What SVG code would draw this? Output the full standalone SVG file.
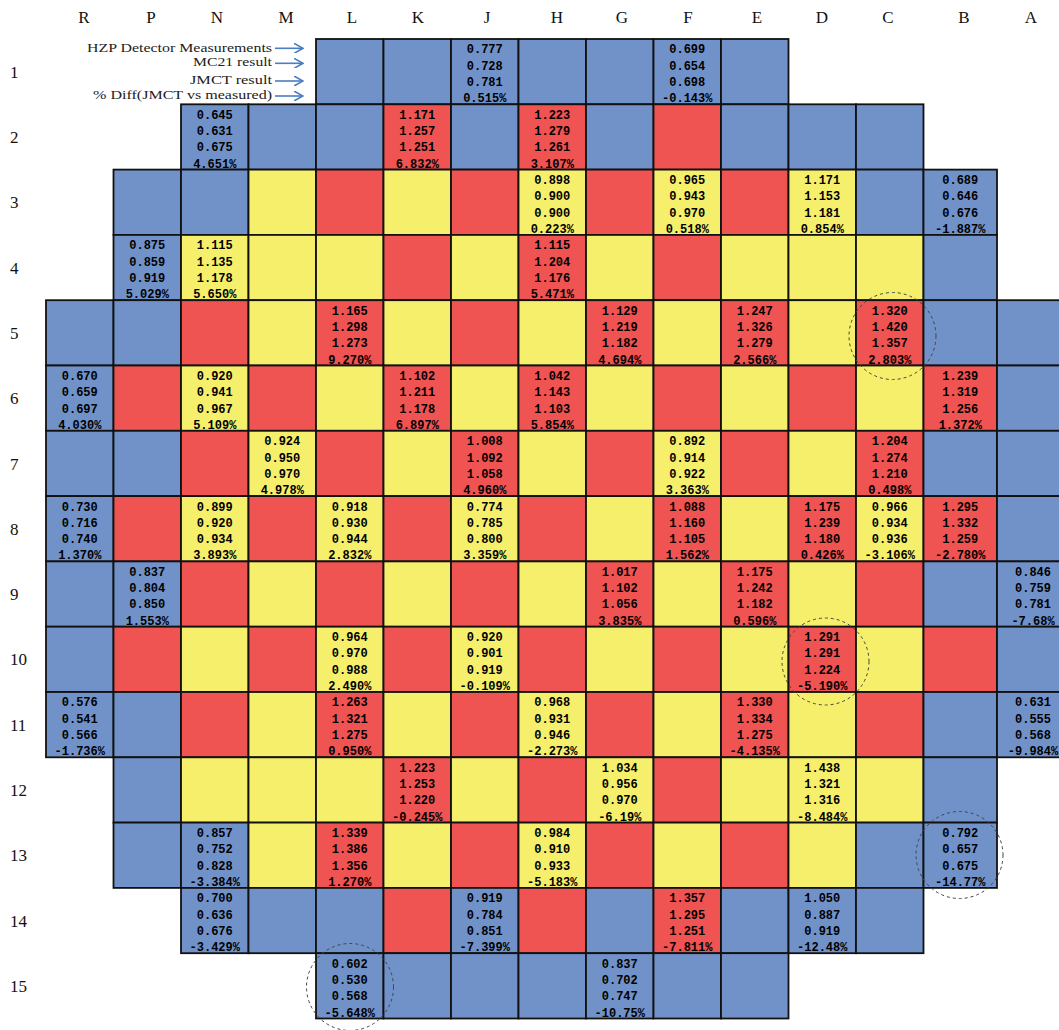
<svg xmlns="http://www.w3.org/2000/svg" width="1059" height="1030" viewBox="0 0 1059 1030">
<style>
.b{fill:#7092C9}.r{fill:#EF5352}.y{fill:#F6EF6C}
.b,.r,.y{stroke:#111;stroke-width:1.8}
.v{font-family:"Liberation Mono",monospace;font-weight:bold;font-size:12px;text-anchor:middle;fill:#000}
.hd{font-family:"Liberation Serif",serif;font-size:17px;fill:#111;text-anchor:middle}
.rl{font-family:"Liberation Serif",serif;font-size:17px;fill:#111}
.lg{font-family:"Liberation Serif",serif;font-size:13px;fill:#222;text-anchor:end}
.circ{fill:none;stroke:#444;stroke-width:1;stroke-dasharray:3 3}
.arr{stroke:#4A7EC0;stroke-width:1.6;fill:none}
</style>
<defs>
<marker id="ah" viewBox="0 0 10 10" refX="9" refY="5" markerWidth="10" markerHeight="10" markerUnits="userSpaceOnUse" orient="auto"><path d="M0,0 L9,5 L0,10" fill="none" stroke="#4A7EC0" stroke-width="1.6"/></marker>
</defs>
<g id="col-headers">
<text class="hd" x="84" y="23">R</text><text class="hd" x="151" y="23">P</text><text class="hd" x="217" y="23">N</text><text class="hd" x="286" y="23">M</text><text class="hd" x="352" y="23">L</text><text class="hd" x="418" y="23">K</text><text class="hd" x="487" y="23">J</text><text class="hd" x="557" y="23">H</text><text class="hd" x="622" y="23">G</text><text class="hd" x="688" y="23">F</text><text class="hd" x="757" y="23">E</text><text class="hd" x="822" y="23">D</text><text class="hd" x="888" y="23">C</text><text class="hd" x="964" y="23">B</text><text class="hd" x="1031" y="23">A</text>
</g>
<g id="row-labels">
<text class="rl" x="10" y="77.6">1</text><text class="rl" x="10" y="143">2</text><text class="rl" x="10" y="208.3">3</text><text class="rl" x="10" y="273.6">4</text><text class="rl" x="10" y="338.9">5</text><text class="rl" x="10" y="404.2">6</text><text class="rl" x="10" y="469.5">7</text><text class="rl" x="10" y="534.8">8</text><text class="rl" x="10" y="600.1">9</text><text class="rl" x="10" y="665.4">10</text><text class="rl" x="10" y="730.7">11</text><text class="rl" x="10" y="796">12</text><text class="rl" x="10" y="861.3">13</text><text class="rl" x="10" y="926.6">14</text><text class="rl" x="10" y="991.9">15</text>
</g>
<g id="legend">
<text class="lg" x="272" y="51.5" textLength="185" lengthAdjust="spacingAndGlyphs">HZP Detector Measurements</text>
<text class="lg" x="272" y="66" textLength="79" lengthAdjust="spacingAndGlyphs">MC21 result</text>
<text class="lg" x="272" y="84.3" textLength="82" lengthAdjust="spacingAndGlyphs">JMCT result</text>
<text class="lg" x="272" y="99" textLength="179" lengthAdjust="spacingAndGlyphs">% Diff(JMCT vs measured)</text>
</g>
<g id="connectors">
<line class="arr" x1="275" y1="48.3" x2="303" y2="48.3" marker-end="url(#ah)"/>
<line class="arr" x1="275" y1="63.3" x2="303" y2="63.3" marker-end="url(#ah)"/>
<line class="arr" x1="275" y1="81" x2="303" y2="81" marker-end="url(#ah)"/>
<line class="arr" x1="275" y1="96" x2="303" y2="96" marker-end="url(#ah)"/>
</g>
<g id="row1">
<g id="L1"><rect class="b" x="316" y="39" width="67.5" height="65.3"/></g>
<g id="K1"><rect class="b" x="383.5" y="39" width="67.5" height="65.3"/></g>
<g id="J1"><rect class="b" x="451" y="39" width="67.5" height="65.3"/><text class="v" y="53.4"><tspan x="484.75">0.777</tspan><tspan x="484.75" dy="16.3">0.728</tspan><tspan x="484.75" dy="16.3">0.781</tspan><tspan x="484.75" dy="16.3">0.515%</tspan></text></g>
<g id="H1"><rect class="b" x="518.5" y="39" width="67.5" height="65.3"/></g>
<g id="G1"><rect class="b" x="586" y="39" width="67.5" height="65.3"/></g>
<g id="F1"><rect class="b" x="653.5" y="39" width="67.5" height="65.3"/><text class="v" y="53.4"><tspan x="687.25">0.699</tspan><tspan x="687.25" dy="16.3">0.654</tspan><tspan x="687.25" dy="16.3">0.698</tspan><tspan x="687.25" dy="16.3">-0.143%</tspan></text></g>
<g id="E1"><rect class="b" x="721" y="39" width="67.5" height="65.3"/></g>
</g>
<g id="row2">
<g id="N2"><rect class="b" x="181" y="104.3" width="67.5" height="65.3"/><text class="v" y="118.7"><tspan x="214.75">0.645</tspan><tspan x="214.75" dy="16.3">0.631</tspan><tspan x="214.75" dy="16.3">0.675</tspan><tspan x="214.75" dy="16.3">4.651%</tspan></text></g>
<g id="M2"><rect class="b" x="248.5" y="104.3" width="67.5" height="65.3"/></g>
<g id="L2"><rect class="b" x="316" y="104.3" width="67.5" height="65.3"/></g>
<g id="K2"><rect class="r" x="383.5" y="104.3" width="67.5" height="65.3"/><text class="v" y="118.7"><tspan x="417.25">1.171</tspan><tspan x="417.25" dy="16.3">1.257</tspan><tspan x="417.25" dy="16.3">1.251</tspan><tspan x="417.25" dy="16.3">6.832%</tspan></text></g>
<g id="J2"><rect class="b" x="451" y="104.3" width="67.5" height="65.3"/></g>
<g id="H2"><rect class="r" x="518.5" y="104.3" width="67.5" height="65.3"/><text class="v" y="118.7"><tspan x="552.25">1.223</tspan><tspan x="552.25" dy="16.3">1.279</tspan><tspan x="552.25" dy="16.3">1.261</tspan><tspan x="552.25" dy="16.3">3.107%</tspan></text></g>
<g id="G2"><rect class="b" x="586" y="104.3" width="67.5" height="65.3"/></g>
<g id="F2"><rect class="r" x="653.5" y="104.3" width="67.5" height="65.3"/></g>
<g id="E2"><rect class="b" x="721" y="104.3" width="67.5" height="65.3"/></g>
<g id="D2"><rect class="b" x="788.5" y="104.3" width="67.5" height="65.3"/></g>
<g id="C2"><rect class="b" x="856" y="104.3" width="67.5" height="65.3"/></g>
</g>
<g id="row3">
<g id="P3"><rect class="b" x="113.5" y="169.6" width="67.5" height="65.3"/></g>
<g id="N3"><rect class="b" x="181" y="169.6" width="67.5" height="65.3"/></g>
<g id="M3"><rect class="y" x="248.5" y="169.6" width="67.5" height="65.3"/></g>
<g id="L3"><rect class="r" x="316" y="169.6" width="67.5" height="65.3"/></g>
<g id="K3"><rect class="y" x="383.5" y="169.6" width="67.5" height="65.3"/></g>
<g id="J3"><rect class="r" x="451" y="169.6" width="67.5" height="65.3"/></g>
<g id="H3"><rect class="y" x="518.5" y="169.6" width="67.5" height="65.3"/><text class="v" y="184"><tspan x="552.25">0.898</tspan><tspan x="552.25" dy="16.3">0.900</tspan><tspan x="552.25" dy="16.3">0.900</tspan><tspan x="552.25" dy="16.3">0.223%</tspan></text></g>
<g id="G3"><rect class="r" x="586" y="169.6" width="67.5" height="65.3"/></g>
<g id="F3"><rect class="y" x="653.5" y="169.6" width="67.5" height="65.3"/><text class="v" y="184"><tspan x="687.25">0.965</tspan><tspan x="687.25" dy="16.3">0.943</tspan><tspan x="687.25" dy="16.3">0.970</tspan><tspan x="687.25" dy="16.3">0.518%</tspan></text></g>
<g id="E3"><rect class="r" x="721" y="169.6" width="67.5" height="65.3"/></g>
<g id="D3"><rect class="y" x="788.5" y="169.6" width="67.5" height="65.3"/><text class="v" y="184"><tspan x="822.25">1.171</tspan><tspan x="822.25" dy="16.3">1.153</tspan><tspan x="822.25" dy="16.3">1.181</tspan><tspan x="822.25" dy="16.3">0.854%</tspan></text></g>
<g id="C3"><rect class="b" x="856" y="169.6" width="67.5" height="65.3"/></g>
<g id="B3"><rect class="b" x="923.5" y="169.6" width="73.5" height="65.3"/><text class="v" y="184"><tspan x="960.25">0.689</tspan><tspan x="960.25" dy="16.3">0.646</tspan><tspan x="960.25" dy="16.3">0.676</tspan><tspan x="960.25" dy="16.3">-1.887%</tspan></text></g>
</g>
<g id="row4">
<g id="P4"><rect class="b" x="113.5" y="234.9" width="67.5" height="65.3"/><text class="v" y="249.3"><tspan x="147.25">0.875</tspan><tspan x="147.25" dy="16.3">0.859</tspan><tspan x="147.25" dy="16.3">0.919</tspan><tspan x="147.25" dy="16.3">5.029%</tspan></text></g>
<g id="N4"><rect class="y" x="181" y="234.9" width="67.5" height="65.3"/><text class="v" y="249.3"><tspan x="214.75">1.115</tspan><tspan x="214.75" dy="16.3">1.135</tspan><tspan x="214.75" dy="16.3">1.178</tspan><tspan x="214.75" dy="16.3">5.650%</tspan></text></g>
<g id="M4"><rect class="y" x="248.5" y="234.9" width="67.5" height="65.3"/></g>
<g id="L4"><rect class="y" x="316" y="234.9" width="67.5" height="65.3"/></g>
<g id="K4"><rect class="r" x="383.5" y="234.9" width="67.5" height="65.3"/></g>
<g id="J4"><rect class="y" x="451" y="234.9" width="67.5" height="65.3"/></g>
<g id="H4"><rect class="r" x="518.5" y="234.9" width="67.5" height="65.3"/><text class="v" y="249.3"><tspan x="552.25">1.115</tspan><tspan x="552.25" dy="16.3">1.204</tspan><tspan x="552.25" dy="16.3">1.176</tspan><tspan x="552.25" dy="16.3">5.471%</tspan></text></g>
<g id="G4"><rect class="y" x="586" y="234.9" width="67.5" height="65.3"/></g>
<g id="F4"><rect class="r" x="653.5" y="234.9" width="67.5" height="65.3"/></g>
<g id="E4"><rect class="y" x="721" y="234.9" width="67.5" height="65.3"/></g>
<g id="D4"><rect class="y" x="788.5" y="234.9" width="67.5" height="65.3"/></g>
<g id="C4"><rect class="y" x="856" y="234.9" width="67.5" height="65.3"/></g>
<g id="B4"><rect class="b" x="923.5" y="234.9" width="73.5" height="65.3"/></g>
</g>
<g id="row5">
<g id="R5"><rect class="b" x="46" y="300.2" width="67.5" height="65.3"/></g>
<g id="P5"><rect class="b" x="113.5" y="300.2" width="67.5" height="65.3"/></g>
<g id="N5"><rect class="r" x="181" y="300.2" width="67.5" height="65.3"/></g>
<g id="M5"><rect class="y" x="248.5" y="300.2" width="67.5" height="65.3"/></g>
<g id="L5"><rect class="r" x="316" y="300.2" width="67.5" height="65.3"/><text class="v" y="314.6"><tspan x="349.75">1.165</tspan><tspan x="349.75" dy="16.3">1.298</tspan><tspan x="349.75" dy="16.3">1.273</tspan><tspan x="349.75" dy="16.3">9.270%</tspan></text></g>
<g id="K5"><rect class="y" x="383.5" y="300.2" width="67.5" height="65.3"/></g>
<g id="J5"><rect class="r" x="451" y="300.2" width="67.5" height="65.3"/></g>
<g id="H5"><rect class="y" x="518.5" y="300.2" width="67.5" height="65.3"/></g>
<g id="G5"><rect class="r" x="586" y="300.2" width="67.5" height="65.3"/><text class="v" y="314.6"><tspan x="619.75">1.129</tspan><tspan x="619.75" dy="16.3">1.219</tspan><tspan x="619.75" dy="16.3">1.182</tspan><tspan x="619.75" dy="16.3">4.694%</tspan></text></g>
<g id="F5"><rect class="y" x="653.5" y="300.2" width="67.5" height="65.3"/></g>
<g id="E5"><rect class="r" x="721" y="300.2" width="67.5" height="65.3"/><text class="v" y="314.6"><tspan x="754.75">1.247</tspan><tspan x="754.75" dy="16.3">1.326</tspan><tspan x="754.75" dy="16.3">1.279</tspan><tspan x="754.75" dy="16.3">2.566%</tspan></text></g>
<g id="D5"><rect class="y" x="788.5" y="300.2" width="67.5" height="65.3"/></g>
<g id="C5"><rect class="r" x="856" y="300.2" width="67.5" height="65.3"/><text class="v" y="314.6"><tspan x="889.75">1.320</tspan><tspan x="889.75" dy="16.3">1.420</tspan><tspan x="889.75" dy="16.3">1.357</tspan><tspan x="889.75" dy="16.3">2.803%</tspan></text></g>
<g id="B5"><rect class="b" x="923.5" y="300.2" width="73.5" height="65.3"/></g>
<g id="A5"><rect class="b" x="997" y="300.2" width="72" height="65.3"/></g>
</g>
<g id="row6">
<g id="R6"><rect class="b" x="46" y="365.5" width="67.5" height="65.3"/><text class="v" y="379.9"><tspan x="79.75">0.670</tspan><tspan x="79.75" dy="16.3">0.659</tspan><tspan x="79.75" dy="16.3">0.697</tspan><tspan x="79.75" dy="16.3">4.030%</tspan></text></g>
<g id="P6"><rect class="r" x="113.5" y="365.5" width="67.5" height="65.3"/></g>
<g id="N6"><rect class="y" x="181" y="365.5" width="67.5" height="65.3"/><text class="v" y="379.9"><tspan x="214.75">0.920</tspan><tspan x="214.75" dy="16.3">0.941</tspan><tspan x="214.75" dy="16.3">0.967</tspan><tspan x="214.75" dy="16.3">5.109%</tspan></text></g>
<g id="M6"><rect class="r" x="248.5" y="365.5" width="67.5" height="65.3"/></g>
<g id="L6"><rect class="y" x="316" y="365.5" width="67.5" height="65.3"/></g>
<g id="K6"><rect class="r" x="383.5" y="365.5" width="67.5" height="65.3"/><text class="v" y="379.9"><tspan x="417.25">1.102</tspan><tspan x="417.25" dy="16.3">1.211</tspan><tspan x="417.25" dy="16.3">1.178</tspan><tspan x="417.25" dy="16.3">6.897%</tspan></text></g>
<g id="J6"><rect class="y" x="451" y="365.5" width="67.5" height="65.3"/></g>
<g id="H6"><rect class="r" x="518.5" y="365.5" width="67.5" height="65.3"/><text class="v" y="379.9"><tspan x="552.25">1.042</tspan><tspan x="552.25" dy="16.3">1.143</tspan><tspan x="552.25" dy="16.3">1.103</tspan><tspan x="552.25" dy="16.3">5.854%</tspan></text></g>
<g id="G6"><rect class="y" x="586" y="365.5" width="67.5" height="65.3"/></g>
<g id="F6"><rect class="r" x="653.5" y="365.5" width="67.5" height="65.3"/></g>
<g id="E6"><rect class="y" x="721" y="365.5" width="67.5" height="65.3"/></g>
<g id="D6"><rect class="r" x="788.5" y="365.5" width="67.5" height="65.3"/></g>
<g id="C6"><rect class="y" x="856" y="365.5" width="67.5" height="65.3"/></g>
<g id="B6"><rect class="r" x="923.5" y="365.5" width="73.5" height="65.3"/><text class="v" y="379.9"><tspan x="960.25">1.239</tspan><tspan x="960.25" dy="16.3">1.319</tspan><tspan x="960.25" dy="16.3">1.256</tspan><tspan x="960.25" dy="16.3">1.372%</tspan></text></g>
<g id="A6"><rect class="b" x="997" y="365.5" width="72" height="65.3"/></g>
</g>
<g id="row7">
<g id="R7"><rect class="b" x="46" y="430.8" width="67.5" height="65.3"/></g>
<g id="P7"><rect class="b" x="113.5" y="430.8" width="67.5" height="65.3"/></g>
<g id="N7"><rect class="r" x="181" y="430.8" width="67.5" height="65.3"/></g>
<g id="M7"><rect class="y" x="248.5" y="430.8" width="67.5" height="65.3"/><text class="v" y="445.2"><tspan x="282.25">0.924</tspan><tspan x="282.25" dy="16.3">0.950</tspan><tspan x="282.25" dy="16.3">0.970</tspan><tspan x="282.25" dy="16.3">4.978%</tspan></text></g>
<g id="L7"><rect class="r" x="316" y="430.8" width="67.5" height="65.3"/></g>
<g id="K7"><rect class="y" x="383.5" y="430.8" width="67.5" height="65.3"/></g>
<g id="J7"><rect class="r" x="451" y="430.8" width="67.5" height="65.3"/><text class="v" y="445.2"><tspan x="484.75">1.008</tspan><tspan x="484.75" dy="16.3">1.092</tspan><tspan x="484.75" dy="16.3">1.058</tspan><tspan x="484.75" dy="16.3">4.960%</tspan></text></g>
<g id="H7"><rect class="y" x="518.5" y="430.8" width="67.5" height="65.3"/></g>
<g id="G7"><rect class="r" x="586" y="430.8" width="67.5" height="65.3"/></g>
<g id="F7"><rect class="y" x="653.5" y="430.8" width="67.5" height="65.3"/><text class="v" y="445.2"><tspan x="687.25">0.892</tspan><tspan x="687.25" dy="16.3">0.914</tspan><tspan x="687.25" dy="16.3">0.922</tspan><tspan x="687.25" dy="16.3">3.363%</tspan></text></g>
<g id="E7"><rect class="r" x="721" y="430.8" width="67.5" height="65.3"/></g>
<g id="D7"><rect class="y" x="788.5" y="430.8" width="67.5" height="65.3"/></g>
<g id="C7"><rect class="r" x="856" y="430.8" width="67.5" height="65.3"/><text class="v" y="445.2"><tspan x="889.75">1.204</tspan><tspan x="889.75" dy="16.3">1.274</tspan><tspan x="889.75" dy="16.3">1.210</tspan><tspan x="889.75" dy="16.3">0.498%</tspan></text></g>
<g id="B7"><rect class="b" x="923.5" y="430.8" width="73.5" height="65.3"/></g>
<g id="A7"><rect class="b" x="997" y="430.8" width="72" height="65.3"/></g>
</g>
<g id="row8">
<g id="R8"><rect class="b" x="46" y="496.1" width="67.5" height="65.3"/><text class="v" y="510.5"><tspan x="79.75">0.730</tspan><tspan x="79.75" dy="16.3">0.716</tspan><tspan x="79.75" dy="16.3">0.740</tspan><tspan x="79.75" dy="16.3">1.370%</tspan></text></g>
<g id="P8"><rect class="r" x="113.5" y="496.1" width="67.5" height="65.3"/></g>
<g id="N8"><rect class="y" x="181" y="496.1" width="67.5" height="65.3"/><text class="v" y="510.5"><tspan x="214.75">0.899</tspan><tspan x="214.75" dy="16.3">0.920</tspan><tspan x="214.75" dy="16.3">0.934</tspan><tspan x="214.75" dy="16.3">3.893%</tspan></text></g>
<g id="M8"><rect class="r" x="248.5" y="496.1" width="67.5" height="65.3"/></g>
<g id="L8"><rect class="y" x="316" y="496.1" width="67.5" height="65.3"/><text class="v" y="510.5"><tspan x="349.75">0.918</tspan><tspan x="349.75" dy="16.3">0.930</tspan><tspan x="349.75" dy="16.3">0.944</tspan><tspan x="349.75" dy="16.3">2.832%</tspan></text></g>
<g id="K8"><rect class="r" x="383.5" y="496.1" width="67.5" height="65.3"/></g>
<g id="J8"><rect class="y" x="451" y="496.1" width="67.5" height="65.3"/><text class="v" y="510.5"><tspan x="484.75">0.774</tspan><tspan x="484.75" dy="16.3">0.785</tspan><tspan x="484.75" dy="16.3">0.800</tspan><tspan x="484.75" dy="16.3">3.359%</tspan></text></g>
<g id="H8"><rect class="r" x="518.5" y="496.1" width="67.5" height="65.3"/></g>
<g id="G8"><rect class="y" x="586" y="496.1" width="67.5" height="65.3"/></g>
<g id="F8"><rect class="r" x="653.5" y="496.1" width="67.5" height="65.3"/><text class="v" y="510.5"><tspan x="687.25">1.088</tspan><tspan x="687.25" dy="16.3">1.160</tspan><tspan x="687.25" dy="16.3">1.105</tspan><tspan x="687.25" dy="16.3">1.562%</tspan></text></g>
<g id="E8"><rect class="y" x="721" y="496.1" width="67.5" height="65.3"/></g>
<g id="D8"><rect class="r" x="788.5" y="496.1" width="67.5" height="65.3"/><text class="v" y="510.5"><tspan x="822.25">1.175</tspan><tspan x="822.25" dy="16.3">1.239</tspan><tspan x="822.25" dy="16.3">1.180</tspan><tspan x="822.25" dy="16.3">0.426%</tspan></text></g>
<g id="C8"><rect class="y" x="856" y="496.1" width="67.5" height="65.3"/><text class="v" y="510.5"><tspan x="889.75">0.966</tspan><tspan x="889.75" dy="16.3">0.934</tspan><tspan x="889.75" dy="16.3">0.936</tspan><tspan x="889.75" dy="16.3">-3.106%</tspan></text></g>
<g id="B8"><rect class="r" x="923.5" y="496.1" width="73.5" height="65.3"/><text class="v" y="510.5"><tspan x="960.25">1.295</tspan><tspan x="960.25" dy="16.3">1.332</tspan><tspan x="960.25" dy="16.3">1.259</tspan><tspan x="960.25" dy="16.3">-2.780%</tspan></text></g>
<g id="A8"><rect class="b" x="997" y="496.1" width="72" height="65.3"/></g>
</g>
<g id="row9">
<g id="R9"><rect class="b" x="46" y="561.4" width="67.5" height="65.3"/></g>
<g id="P9"><rect class="b" x="113.5" y="561.4" width="67.5" height="65.3"/><text class="v" y="575.8"><tspan x="147.25">0.837</tspan><tspan x="147.25" dy="16.3">0.804</tspan><tspan x="147.25" dy="16.3">0.850</tspan><tspan x="147.25" dy="16.3">1.553%</tspan></text></g>
<g id="N9"><rect class="r" x="181" y="561.4" width="67.5" height="65.3"/></g>
<g id="M9"><rect class="y" x="248.5" y="561.4" width="67.5" height="65.3"/></g>
<g id="L9"><rect class="r" x="316" y="561.4" width="67.5" height="65.3"/></g>
<g id="K9"><rect class="y" x="383.5" y="561.4" width="67.5" height="65.3"/></g>
<g id="J9"><rect class="r" x="451" y="561.4" width="67.5" height="65.3"/></g>
<g id="H9"><rect class="y" x="518.5" y="561.4" width="67.5" height="65.3"/></g>
<g id="G9"><rect class="r" x="586" y="561.4" width="67.5" height="65.3"/><text class="v" y="575.8"><tspan x="619.75">1.017</tspan><tspan x="619.75" dy="16.3">1.102</tspan><tspan x="619.75" dy="16.3">1.056</tspan><tspan x="619.75" dy="16.3">3.835%</tspan></text></g>
<g id="F9"><rect class="y" x="653.5" y="561.4" width="67.5" height="65.3"/></g>
<g id="E9"><rect class="r" x="721" y="561.4" width="67.5" height="65.3"/><text class="v" y="575.8"><tspan x="754.75">1.175</tspan><tspan x="754.75" dy="16.3">1.242</tspan><tspan x="754.75" dy="16.3">1.182</tspan><tspan x="754.75" dy="16.3">0.596%</tspan></text></g>
<g id="D9"><rect class="y" x="788.5" y="561.4" width="67.5" height="65.3"/></g>
<g id="C9"><rect class="r" x="856" y="561.4" width="67.5" height="65.3"/></g>
<g id="B9"><rect class="b" x="923.5" y="561.4" width="73.5" height="65.3"/></g>
<g id="A9"><rect class="b" x="997" y="561.4" width="72" height="65.3"/><text class="v" y="575.8"><tspan x="1033">0.846</tspan><tspan x="1033" dy="16.3">0.759</tspan><tspan x="1033" dy="16.3">0.781</tspan><tspan x="1033" dy="16.3">-7.68%</tspan></text></g>
</g>
<g id="row10">
<g id="R10"><rect class="b" x="46" y="626.7" width="67.5" height="65.3"/></g>
<g id="P10"><rect class="r" x="113.5" y="626.7" width="67.5" height="65.3"/></g>
<g id="N10"><rect class="y" x="181" y="626.7" width="67.5" height="65.3"/></g>
<g id="M10"><rect class="r" x="248.5" y="626.7" width="67.5" height="65.3"/></g>
<g id="L10"><rect class="y" x="316" y="626.7" width="67.5" height="65.3"/><text class="v" y="641.1"><tspan x="349.75">0.964</tspan><tspan x="349.75" dy="16.3">0.970</tspan><tspan x="349.75" dy="16.3">0.988</tspan><tspan x="349.75" dy="16.3">2.490%</tspan></text></g>
<g id="K10"><rect class="r" x="383.5" y="626.7" width="67.5" height="65.3"/></g>
<g id="J10"><rect class="y" x="451" y="626.7" width="67.5" height="65.3"/><text class="v" y="641.1"><tspan x="484.75">0.920</tspan><tspan x="484.75" dy="16.3">0.901</tspan><tspan x="484.75" dy="16.3">0.919</tspan><tspan x="484.75" dy="16.3">-0.109%</tspan></text></g>
<g id="H10"><rect class="r" x="518.5" y="626.7" width="67.5" height="65.3"/></g>
<g id="G10"><rect class="y" x="586" y="626.7" width="67.5" height="65.3"/></g>
<g id="F10"><rect class="r" x="653.5" y="626.7" width="67.5" height="65.3"/></g>
<g id="E10"><rect class="y" x="721" y="626.7" width="67.5" height="65.3"/></g>
<g id="D10"><rect class="r" x="788.5" y="626.7" width="67.5" height="65.3"/><text class="v" y="641.1"><tspan x="822.25">1.291</tspan><tspan x="822.25" dy="16.3">1.291</tspan><tspan x="822.25" dy="16.3">1.224</tspan><tspan x="822.25" dy="16.3">-5.190%</tspan></text></g>
<g id="C10"><rect class="y" x="856" y="626.7" width="67.5" height="65.3"/></g>
<g id="B10"><rect class="r" x="923.5" y="626.7" width="73.5" height="65.3"/></g>
<g id="A10"><rect class="b" x="997" y="626.7" width="72" height="65.3"/></g>
</g>
<g id="row11">
<g id="R11"><rect class="b" x="46" y="692" width="67.5" height="65.3"/><text class="v" y="706.4"><tspan x="79.75">0.576</tspan><tspan x="79.75" dy="16.3">0.541</tspan><tspan x="79.75" dy="16.3">0.566</tspan><tspan x="79.75" dy="16.3">-1.736%</tspan></text></g>
<g id="P11"><rect class="b" x="113.5" y="692" width="67.5" height="65.3"/></g>
<g id="N11"><rect class="r" x="181" y="692" width="67.5" height="65.3"/></g>
<g id="M11"><rect class="y" x="248.5" y="692" width="67.5" height="65.3"/></g>
<g id="L11"><rect class="r" x="316" y="692" width="67.5" height="65.3"/><text class="v" y="706.4"><tspan x="349.75">1.263</tspan><tspan x="349.75" dy="16.3">1.321</tspan><tspan x="349.75" dy="16.3">1.275</tspan><tspan x="349.75" dy="16.3">0.950%</tspan></text></g>
<g id="K11"><rect class="y" x="383.5" y="692" width="67.5" height="65.3"/></g>
<g id="J11"><rect class="r" x="451" y="692" width="67.5" height="65.3"/></g>
<g id="H11"><rect class="y" x="518.5" y="692" width="67.5" height="65.3"/><text class="v" y="706.4"><tspan x="552.25">0.968</tspan><tspan x="552.25" dy="16.3">0.931</tspan><tspan x="552.25" dy="16.3">0.946</tspan><tspan x="552.25" dy="16.3">-2.273%</tspan></text></g>
<g id="G11"><rect class="r" x="586" y="692" width="67.5" height="65.3"/></g>
<g id="F11"><rect class="y" x="653.5" y="692" width="67.5" height="65.3"/></g>
<g id="E11"><rect class="r" x="721" y="692" width="67.5" height="65.3"/><text class="v" y="706.4"><tspan x="754.75">1.330</tspan><tspan x="754.75" dy="16.3">1.334</tspan><tspan x="754.75" dy="16.3">1.275</tspan><tspan x="754.75" dy="16.3">-4.135%</tspan></text></g>
<g id="D11"><rect class="y" x="788.5" y="692" width="67.5" height="65.3"/></g>
<g id="C11"><rect class="r" x="856" y="692" width="67.5" height="65.3"/></g>
<g id="B11"><rect class="b" x="923.5" y="692" width="73.5" height="65.3"/></g>
<g id="A11"><rect class="b" x="997" y="692" width="72" height="65.3"/><text class="v" y="706.4"><tspan x="1033">0.631</tspan><tspan x="1033" dy="16.3">0.555</tspan><tspan x="1033" dy="16.3">0.568</tspan><tspan x="1033" dy="16.3">-9.984%</tspan></text></g>
</g>
<g id="row12">
<g id="P12"><rect class="b" x="113.5" y="757.3" width="67.5" height="65.3"/></g>
<g id="N12"><rect class="y" x="181" y="757.3" width="67.5" height="65.3"/></g>
<g id="M12"><rect class="y" x="248.5" y="757.3" width="67.5" height="65.3"/></g>
<g id="L12"><rect class="y" x="316" y="757.3" width="67.5" height="65.3"/></g>
<g id="K12"><rect class="r" x="383.5" y="757.3" width="67.5" height="65.3"/><text class="v" y="771.7"><tspan x="417.25">1.223</tspan><tspan x="417.25" dy="16.3">1.253</tspan><tspan x="417.25" dy="16.3">1.220</tspan><tspan x="417.25" dy="16.3">-0.245%</tspan></text></g>
<g id="J12"><rect class="y" x="451" y="757.3" width="67.5" height="65.3"/></g>
<g id="H12"><rect class="r" x="518.5" y="757.3" width="67.5" height="65.3"/></g>
<g id="G12"><rect class="y" x="586" y="757.3" width="67.5" height="65.3"/><text class="v" y="771.7"><tspan x="619.75">1.034</tspan><tspan x="619.75" dy="16.3">0.956</tspan><tspan x="619.75" dy="16.3">0.970</tspan><tspan x="619.75" dy="16.3">-6.19%</tspan></text></g>
<g id="F12"><rect class="r" x="653.5" y="757.3" width="67.5" height="65.3"/></g>
<g id="E12"><rect class="y" x="721" y="757.3" width="67.5" height="65.3"/></g>
<g id="D12"><rect class="y" x="788.5" y="757.3" width="67.5" height="65.3"/><text class="v" y="771.7"><tspan x="822.25">1.438</tspan><tspan x="822.25" dy="16.3">1.321</tspan><tspan x="822.25" dy="16.3">1.316</tspan><tspan x="822.25" dy="16.3">-8.484%</tspan></text></g>
<g id="C12"><rect class="y" x="856" y="757.3" width="67.5" height="65.3"/></g>
<g id="B12"><rect class="b" x="923.5" y="757.3" width="73.5" height="65.3"/></g>
</g>
<g id="row13">
<g id="P13"><rect class="b" x="113.5" y="822.6" width="67.5" height="65.3"/></g>
<g id="N13"><rect class="b" x="181" y="822.6" width="67.5" height="65.3"/><text class="v" y="837"><tspan x="214.75">0.857</tspan><tspan x="214.75" dy="16.3">0.752</tspan><tspan x="214.75" dy="16.3">0.828</tspan><tspan x="214.75" dy="16.3">-3.384%</tspan></text></g>
<g id="M13"><rect class="y" x="248.5" y="822.6" width="67.5" height="65.3"/></g>
<g id="L13"><rect class="r" x="316" y="822.6" width="67.5" height="65.3"/><text class="v" y="837"><tspan x="349.75">1.339</tspan><tspan x="349.75" dy="16.3">1.386</tspan><tspan x="349.75" dy="16.3">1.356</tspan><tspan x="349.75" dy="16.3">1.270%</tspan></text></g>
<g id="K13"><rect class="y" x="383.5" y="822.6" width="67.5" height="65.3"/></g>
<g id="J13"><rect class="r" x="451" y="822.6" width="67.5" height="65.3"/></g>
<g id="H13"><rect class="y" x="518.5" y="822.6" width="67.5" height="65.3"/><text class="v" y="837"><tspan x="552.25">0.984</tspan><tspan x="552.25" dy="16.3">0.910</tspan><tspan x="552.25" dy="16.3">0.933</tspan><tspan x="552.25" dy="16.3">-5.183%</tspan></text></g>
<g id="G13"><rect class="r" x="586" y="822.6" width="67.5" height="65.3"/></g>
<g id="F13"><rect class="y" x="653.5" y="822.6" width="67.5" height="65.3"/></g>
<g id="E13"><rect class="r" x="721" y="822.6" width="67.5" height="65.3"/></g>
<g id="D13"><rect class="y" x="788.5" y="822.6" width="67.5" height="65.3"/></g>
<g id="C13"><rect class="b" x="856" y="822.6" width="67.5" height="65.3"/></g>
<g id="B13"><rect class="b" x="923.5" y="822.6" width="73.5" height="65.3"/><text class="v" y="837"><tspan x="960.25">0.792</tspan><tspan x="960.25" dy="16.3">0.657</tspan><tspan x="960.25" dy="16.3">0.675</tspan><tspan x="960.25" dy="16.3">-14.77%</tspan></text></g>
</g>
<g id="row14">
<g id="N14"><rect class="b" x="181" y="887.9" width="67.5" height="65.3"/><text class="v" y="902.3"><tspan x="214.75">0.700</tspan><tspan x="214.75" dy="16.3">0.636</tspan><tspan x="214.75" dy="16.3">0.676</tspan><tspan x="214.75" dy="16.3">-3.429%</tspan></text></g>
<g id="M14"><rect class="b" x="248.5" y="887.9" width="67.5" height="65.3"/></g>
<g id="L14"><rect class="b" x="316" y="887.9" width="67.5" height="65.3"/></g>
<g id="K14"><rect class="r" x="383.5" y="887.9" width="67.5" height="65.3"/></g>
<g id="J14"><rect class="b" x="451" y="887.9" width="67.5" height="65.3"/><text class="v" y="902.3"><tspan x="484.75">0.919</tspan><tspan x="484.75" dy="16.3">0.784</tspan><tspan x="484.75" dy="16.3">0.851</tspan><tspan x="484.75" dy="16.3">-7.399%</tspan></text></g>
<g id="H14"><rect class="r" x="518.5" y="887.9" width="67.5" height="65.3"/></g>
<g id="G14"><rect class="b" x="586" y="887.9" width="67.5" height="65.3"/></g>
<g id="F14"><rect class="r" x="653.5" y="887.9" width="67.5" height="65.3"/><text class="v" y="902.3"><tspan x="687.25">1.357</tspan><tspan x="687.25" dy="16.3">1.295</tspan><tspan x="687.25" dy="16.3">1.251</tspan><tspan x="687.25" dy="16.3">-7.811%</tspan></text></g>
<g id="E14"><rect class="b" x="721" y="887.9" width="67.5" height="65.3"/></g>
<g id="D14"><rect class="b" x="788.5" y="887.9" width="67.5" height="65.3"/><text class="v" y="902.3"><tspan x="822.25">1.050</tspan><tspan x="822.25" dy="16.3">0.887</tspan><tspan x="822.25" dy="16.3">0.919</tspan><tspan x="822.25" dy="16.3">-12.48%</tspan></text></g>
<g id="C14"><rect class="b" x="856" y="887.9" width="67.5" height="65.3"/></g>
</g>
<g id="row15">
<g id="L15"><rect class="b" x="316" y="953.2" width="67.5" height="65.3"/><text class="v" y="967.6"><tspan x="349.75">0.602</tspan><tspan x="349.75" dy="16.3">0.530</tspan><tspan x="349.75" dy="16.3">0.568</tspan><tspan x="349.75" dy="16.3">-5.648%</tspan></text></g>
<g id="K15"><rect class="b" x="383.5" y="953.2" width="67.5" height="65.3"/></g>
<g id="J15"><rect class="b" x="451" y="953.2" width="67.5" height="65.3"/></g>
<g id="H15"><rect class="b" x="518.5" y="953.2" width="67.5" height="65.3"/></g>
<g id="G15"><rect class="b" x="586" y="953.2" width="67.5" height="65.3"/><text class="v" y="967.6"><tspan x="619.75">0.837</tspan><tspan x="619.75" dy="16.3">0.702</tspan><tspan x="619.75" dy="16.3">0.747</tspan><tspan x="619.75" dy="16.3">-10.75%</tspan></text></g>
<g id="F15"><rect class="b" x="653.5" y="953.2" width="67.5" height="65.3"/></g>
<g id="E15"><rect class="b" x="721" y="953.2" width="67.5" height="65.3"/></g>
</g>
<g id="highlights">
<circle class="circ" cx="892.5" cy="336" r="43.5"/>
<circle class="circ" cx="825.5" cy="661.5" r="43.5"/>
<circle class="circ" cx="959.5" cy="855" r="43.5"/>
<circle class="circ" cx="350" cy="987" r="43.5"/>
</g>
</svg>
